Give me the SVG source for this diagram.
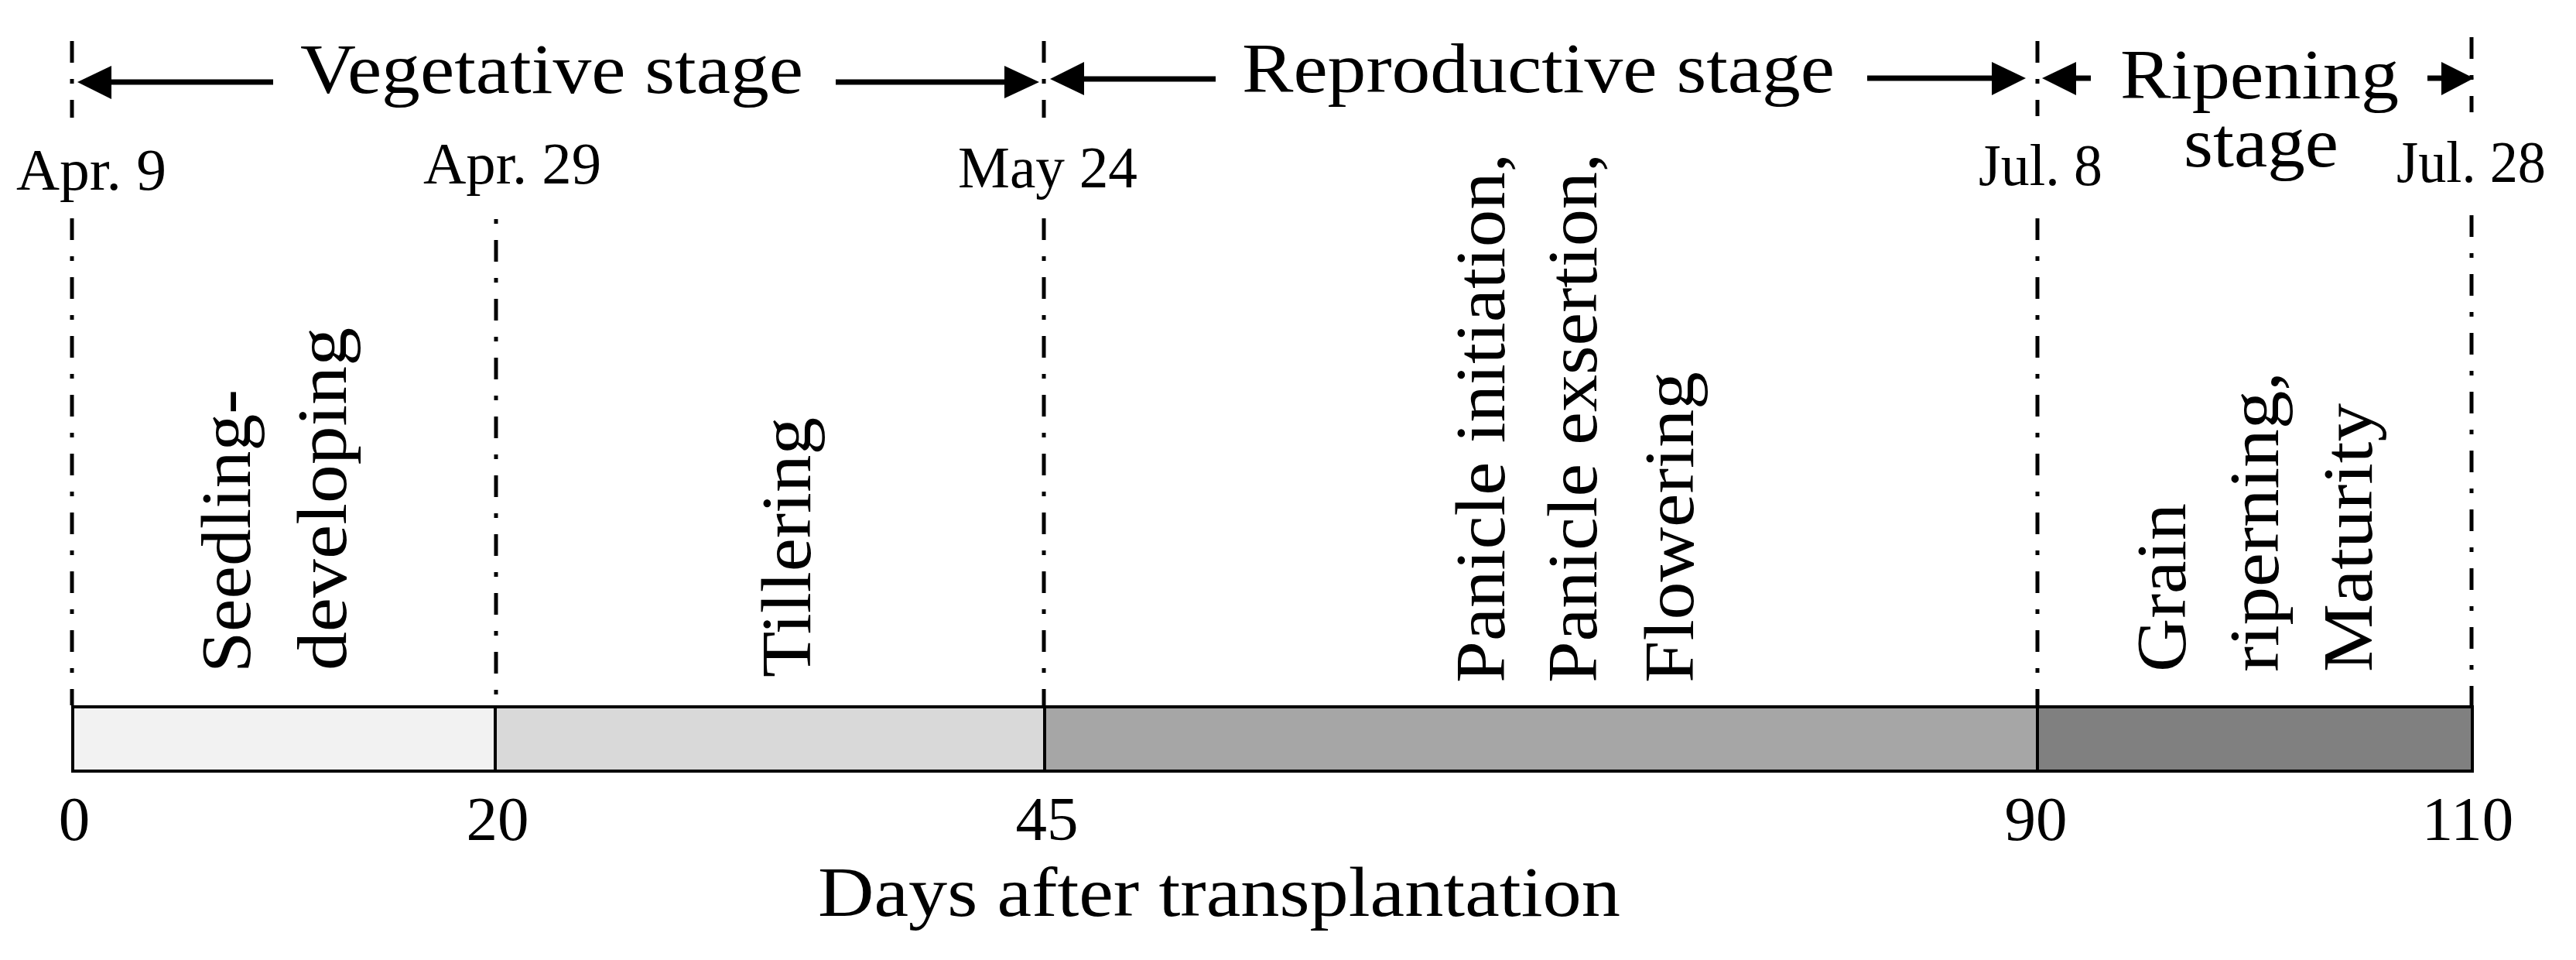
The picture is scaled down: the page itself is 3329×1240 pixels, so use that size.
<svg xmlns="http://www.w3.org/2000/svg" width="3329" height="1240" viewBox="0 0 3329 1240">
<style>
text{font-family:"Liberation Serif","Times New Roman",serif;fill:#000}
.lbl{font-size:92px}
.date{font-size:77px}
.num{font-size:81px;text-anchor:middle}
.dd{stroke:#000;stroke-width:5;fill:none;stroke-dasharray:28 21 6 21}
.shaft{stroke:#000;stroke-width:7}
.head{fill:#000}
.bar{stroke:#000;stroke-width:4}
</style>
<rect width="3329" height="1240" fill="#fff"/>
<g id="connectors">
<g id="guides">
<line class="dd" x1="93" y1="53" x2="93" y2="152"/>
<line class="dd" x1="93" y1="282" x2="93" y2="911"/>
<line class="dd" x1="641" y1="283" x2="641" y2="911" stroke-dashoffset="49"/>
<line class="dd" x1="1349" y1="53" x2="1349" y2="152"/>
<line class="dd" x1="1349" y1="282" x2="1349" y2="911"/>
<line class="dd" x1="2633" y1="53" x2="2633" y2="150"/>
<line class="dd" x1="2633" y1="282" x2="2633" y2="911"/>
<line class="dd" x1="3194" y1="48" x2="3194" y2="145"/>
<line class="dd" x1="3194" y1="278" x2="3194" y2="911"/>
</g>
<g id="arrows">
<line class="shaft" x1="142" y1="106" x2="353" y2="106"/>
<polygon class="head" points="100,106 144,85 144,128"/>
<line class="shaft" x1="1080" y1="106" x2="1300" y2="106"/>
<polygon class="head" points="1343,106 1298,85 1298,127"/>
<line class="shaft" x1="1399" y1="102" x2="1571" y2="102"/>
<polygon class="head" points="1357,102 1401,80 1401,123"/>
<line class="shaft" x1="2413" y1="101" x2="2576" y2="101"/>
<polygon class="head" points="2618,101 2574,80 2574,123"/>
<line class="shaft" x1="2681" y1="101" x2="2702" y2="101"/>
<polygon class="head" points="2639,101 2683,80 2683,123"/>
<line class="shaft" x1="3137" y1="101" x2="3157" y2="101"/>
<polygon class="head" points="3197,101 3155,80 3155,123"/>
</g>
</g>
<g id="stage-labels">
<text class="lbl" x="388" y="120" textLength="650" lengthAdjust="spacingAndGlyphs">Vegetative stage</text>
<text class="lbl" x="1605" y="119" textLength="766" lengthAdjust="spacingAndGlyphs">Reproductive stage</text>
<text class="lbl" x="2740" y="127" textLength="360" lengthAdjust="spacingAndGlyphs">Ripening</text>
<text class="lbl" x="2822" y="215" textLength="200" lengthAdjust="spacingAndGlyphs">stage</text>
</g>
<g id="dates">
<text class="date" x="21" y="245" textLength="194" lengthAdjust="spacingAndGlyphs">Apr. 9</text>
<text class="date" x="547" y="237" textLength="230" lengthAdjust="spacingAndGlyphs">Apr. 29</text>
<text class="date" x="1238" y="242" textLength="232" lengthAdjust="spacingAndGlyphs">May 24</text>
<text class="date" x="2557" y="239" textLength="160" lengthAdjust="spacingAndGlyphs">Jul. 8</text>
<text class="date" x="3097" y="235" textLength="193" lengthAdjust="spacingAndGlyphs">Jul. 28</text>
</g>
<g id="phase-labels" class="lbl">
<text transform="translate(323,869) rotate(-90)" textLength="366" lengthAdjust="spacingAndGlyphs">Seedling-</text>
<text transform="translate(447,866) rotate(-90)" textLength="443" lengthAdjust="spacingAndGlyphs">developing</text>
<text transform="translate(1047,875) rotate(-90)" textLength="336" lengthAdjust="spacingAndGlyphs">Tillering</text>
<text transform="translate(1944,882) rotate(-90)" textLength="684" lengthAdjust="spacingAndGlyphs">Panicle initiation,</text>
<text transform="translate(2063,882) rotate(-90)" textLength="684" lengthAdjust="spacingAndGlyphs">Panicle exsertion,</text>
<text transform="translate(2188,882) rotate(-90)" textLength="402" lengthAdjust="spacingAndGlyphs">Flowering</text>
<text transform="translate(2824,868) rotate(-90)" textLength="218" lengthAdjust="spacingAndGlyphs">Grain</text>
<text transform="translate(2944,868) rotate(-90)" textLength="388" lengthAdjust="spacingAndGlyphs">riperning,</text>
<text transform="translate(3065,868) rotate(-90)" textLength="347" lengthAdjust="spacingAndGlyphs">Maturity</text>
</g>
<g id="bar">
<rect id="seg-seedling" class="bar" x="94" y="913" width="546" height="83" fill="#f2f2f2"/>
<rect id="seg-tillering" class="bar" x="640" y="913" width="710" height="83" fill="#d9d9d9"/>
<rect id="seg-reproductive" class="bar" x="1350" y="913" width="1283" height="83" fill="#a6a6a6"/>
<rect id="seg-ripening" class="bar" x="2633" y="913" width="562" height="83" fill="#808080"/>
</g>
<g id="axis">
<text class="num" x="96" y="1085">0</text>
<text class="num" x="643" y="1085">20</text>
<text class="num" x="1353" y="1085">45</text>
<text class="num" x="2631" y="1085">90</text>
<text class="num" x="3189" y="1085">110</text>
<text class="lbl" x="1057" y="1183" textLength="1037" lengthAdjust="spacingAndGlyphs">Days after transplantation</text>
</g>
</svg>
